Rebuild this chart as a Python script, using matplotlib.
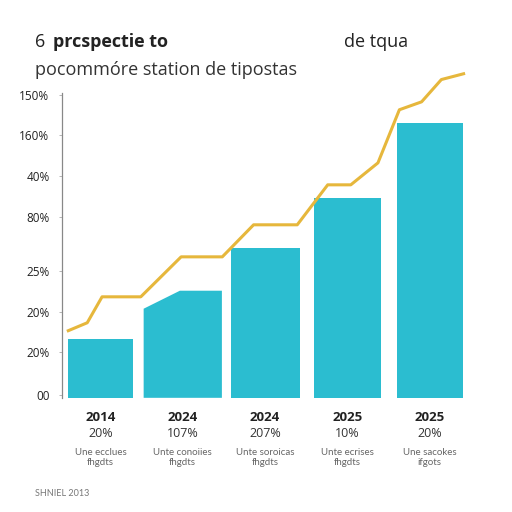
import matplotlib.pyplot as plt
from matplotlib.patches import Polygon

# values (axis units: 0 = baseline, 100 = top of axis)
years = ['2014', '2024', '2024', '2025', '2025']
pcts = ['20%', '107%', '207%', '10%', '20%']
descs = ['Une ecclues\nfhgdts', 'Unte conoiies\nfhgdts', 'Unte soroicas\nfhgdts',
         'Unte ecrises\nfhgdts', 'Une sacokes\nifgots']
bar_top = [19.3, 35.1, 49.2, 65.6, 90.2]
bar_left_top = [19.3, 29.2, 49.2, 65.6, 90.2]  # second bar has a slanted corner
line_x = [-0.39, -0.16, 0.02, 0.49, 0.98, 1.48, 1.86, 2.39, 2.76, 3.04, 3.37, 3.63, 3.90, 4.14, 4.41]
line_y = [22.0, 24.6, 33.1, 33.1, 46.2, 46.2, 56.7, 56.7, 69.8, 69.8, 77.0, 94.4, 97.0, 104.3, 106.2]
ytick_pos = [1.0, 15.1, 28.2, 41.6, 59.3, 72.8, 86.2, 99.3]
ytick_lab = ['00', '20%', '20%', '25%', '80%', '40%', '160%', '150%']

bar_color = '#2bbdd0'
line_color = '#e6b73c'
widths = [0.79, 0.95, 0.84, 0.81, 0.80]

plt.rcParams['font.family'] = ['Lato', 'DejaVu Sans']

fig = plt.figure(figsize=(5.12, 5.12), dpi=100)
ax = fig.add_axes([0.121, 0.223, 0.816, 0.596])

for i in range(len(years)):
    w = widths[i]
    l, r = i - w / 2, i + w / 2
    knee = l + (0.44 if bar_left_top[i] != bar_top[i] else 0)
    pts = [(l, 0), (l, bar_left_top[i]), (knee, bar_top[i]), (r, bar_top[i]), (r, 0)]
    ax.add_patch(Polygon(pts, closed=True, color=bar_color, lw=0))

ax.plot(line_x, line_y, color=line_color, lw=2.2, clip_on=False, solid_joinstyle='round')

ax.set_xlim(-0.467, 4.606)
ax.set_ylim(0, 100)
for s in ['top', 'right', 'bottom']:
    ax.spines[s].set_visible(False)
ax.spines['left'].set_color('#888888')
ax.spines['left'].set_linewidth(0.9)
ax.set_xticks([])
ax.set_yticks(ytick_pos)
ax.set_yticklabels(ytick_lab, fontsize=8.5, color='#222222', family='Open Sans')
ax.tick_params(axis='y', length=2, width=0.6, color='#aaaaaa', pad=7)

tr = ax.get_xaxis_transform()
for i in range(len(years)):
    ax.text(i, -0.066, years[i], transform=tr, ha='center', va='center',
            fontsize=9.5, fontweight='bold', color='#222222', family='Open Sans')
    ax.text(i, -0.118, pcts[i], transform=tr, ha='center', va='center',
            fontsize=9, color='#333333', family='Open Sans')
    ax.text(i, -0.195, descs[i], transform=tr, ha='center', va='center',
            fontsize=7, color='#666666', linespacing=1.1)

tf = dict(fontsize=13, family='Open Sans', va='center')
fig.text(0.068, 0.918, '6', color='#222222', **tf)
fig.text(0.103, 0.918, 'prcspectie to', fontweight='bold', color='#222222', **tf)
fig.text(0.672, 0.918, 'de tqua', color='#222222', **tf)
fig.text(0.068, 0.863, 'pocommóre station de tipostas', color='#333333', **tf)
fig.text(0.068, 0.037, 'SHNIEL 2013', fontsize=6.5, color='#777777', va='center')

fig.savefig('out.png', dpi=100, facecolor='white')
